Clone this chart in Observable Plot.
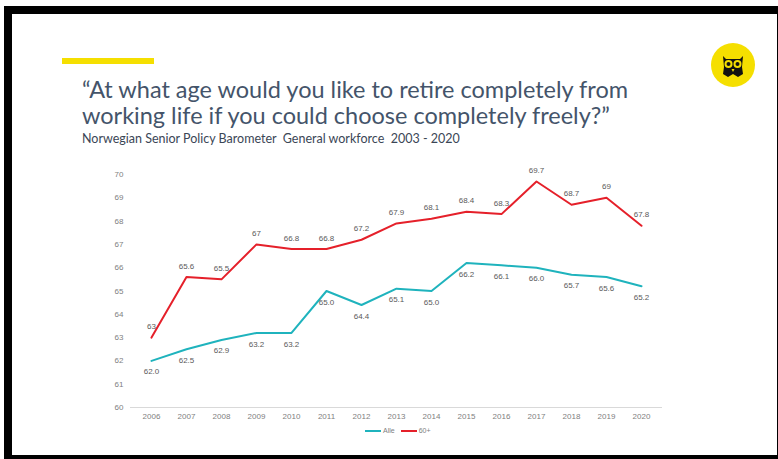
<!DOCTYPE html>
<html>
<head>
<meta charset="utf-8">
<script src="https://cdn.jsdelivr.net/npm/d3@7"></script>
<script src="https://cdn.jsdelivr.net/npm/@observablehq/plot@0.6"></script>
<style>
  html, body { margin: 0; padding: 0; background: #fff; width: 778px; height: 459px; overflow: hidden; }
  #frame { position: absolute; left: 4px; top: 6px; width: 774px; height: 453px; background: #000; }
  #slide { position: absolute; left: 12px; top: 14px; width: 765px; height: 441px; background: #fff; }
  #bar { position: absolute; left: 62px; top: 58px; width: 92px; height: 6px; background: #f5df00; }
  #title { position: absolute; left: 82px; top: 76px; font-family: Lato, "Open Sans", sans-serif; font-size: 23.5px; line-height: 26px; color: #44546a; white-space: pre; }
  #subtitle { position: absolute; left: 82px; top: 131px; font-family: Lato, "Open Sans", sans-serif; font-size: 12.5px; color: #3b4656; white-space: pre; }
  #owl { position: absolute; left: 711px; top: 43px; }
  #chart { position: absolute; left: 90px; top: 160px; }
  #legend { position: absolute; left: 365px; top: 427px; font-family: "Liberation Sans", sans-serif; font-size: 7px; color: #808080; display: flex; align-items: center; }
  .sw { display: inline-block; width: 16px; height: 2px; margin-right: 2px; }
</style>
</head>
<body>
<div id="frame"></div>
<div id="slide"></div>
<div id="bar"></div>
<div id="title">“At what age would you like to retire completely from
working life if you could choose completely freely?”</div>
<div id="subtitle">Norwegian Senior Policy Barometer  General workforce  2003 - 2020</div>
<svg id="owl" width="44" height="44" viewBox="0 0 44 44">
  <circle cx="22" cy="22" r="22" fill="#f5df00"/>
  <path d="M12 13 L15 16 L29 16 L32 13 L31 24 L32 31 L27 34 L22 31 L17 34 L12 31 L13 24 Z" fill="#111"/>
  <circle cx="17.5" cy="21" r="4" fill="#f5df00"/>
  <circle cx="26.5" cy="21" r="4" fill="#f5df00"/>
  <circle cx="17.5" cy="21" r="2" fill="#111"/>
  <circle cx="26.5" cy="21" r="2" fill="#111"/>
  <path d="M20.5 26 L22 29 L23.5 26 Z" fill="#f5df00"/>
</svg>
<div id="chart"></div>
<div id="legend"><span class="sw" style="background:#1fb3bd"></span><span id="l1">Alle</span><span style="width:6px;display:inline-block"></span><span class="sw" style="background:#e5202a"></span><span id="l2">60+</span></div>
<script>
const years = [2006, 2007, 2008, 2009, 2010, 2011, 2012, 2013, 2014, 2015, 2016, 2017, 2018, 2019, 2020];
const alle = [62.0, 62.5, 62.9, 63.2, 63.2, 65.0, 64.4, 65.1, 65.0, 66.2, 66.1, 66.0, 65.7, 65.6, 65.2];
const senior = [63, 65.6, 65.5, 67, 66.8, 66.8, 67.2, 67.9, 68.1, 68.4, 68.3, 69.7, 68.7, 69, 67.8];
const alleLabels = ["62.0", "62.5", "62.9", "63.2", "63.2", "65.0", "64.4", "65.1", "65.0", "66.2", "66.1", "66.0", "65.7", "65.6", "65.2"];
const seniorLabels = ["63", "65.6", "65.5", "67", "66.8", "66.8", "67.2", "67.9", "68.1", "68.4", "68.3", "69.7", "68.7", "69", "67.8"];
const seriesNames = ["Alle", "60+"];
const seriesColors = ["#1fb3bd", "#e5202a"];
const yTicks = [60, 61, 62, 63, 64, 65, 66, 67, 68, 69, 70];

const alleData = years.map((y, i) => ({year: y, value: alle[i], label: alleLabels[i], series: seriesNames[0]}));
const seniorData = years.map((y, i) => ({year: y, value: senior[i], label: seniorLabels[i], series: seriesNames[1]}));

const chart = Plot.plot({
  width: 600,
  height: 270,
  marginLeft: 40,
  marginRight: 28,
  marginTop: 14,
  marginBottom: 23,
  style: {fontFamily: "'Liberation Sans', sans-serif", fontSize: "8px", color: "#808080", background: "transparent"},
  x: {type: "point", domain: years, padding: 0.5, label: null, tickSize: 0, tickPadding: 6, tickFormat: d => String(d)},
  y: {domain: [60, 70], ticks: yTicks, label: null, tickSize: 0, tickPadding: 7},
  marks: [
    Plot.ruleY([60], {stroke: "#d9d9d9", strokeWidth: 1}),
    Plot.line(alleData, {x: "year", y: "value", stroke: seriesColors[0], strokeWidth: 2}),
    Plot.line(seniorData, {x: "year", y: "value", stroke: seriesColors[1], strokeWidth: 2}),
    Plot.text(alleData, {x: "year", y: "value", text: "label", dy: 11, fill: "#595959", fontSize: 8}),
    Plot.text(seniorData, {x: "year", y: "value", text: "label", dy: -11, fill: "#595959", fontSize: 8})
  ]
});
document.getElementById("chart").appendChild(chart);
</script>
</body>
</html>
